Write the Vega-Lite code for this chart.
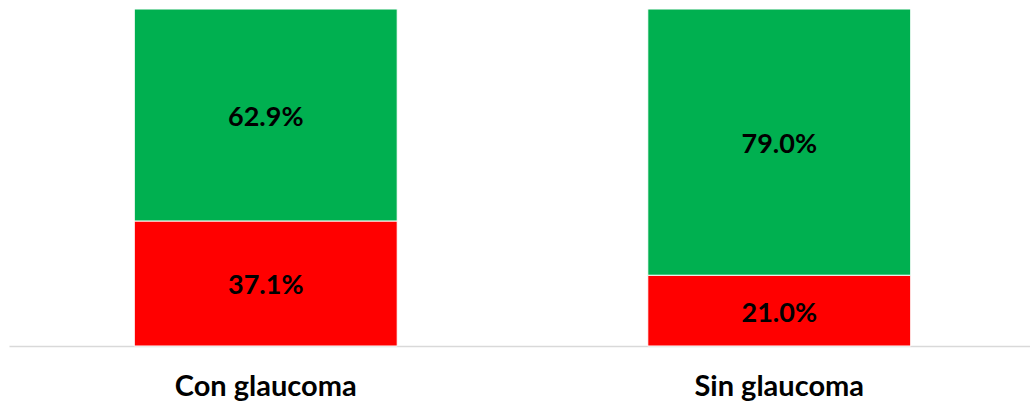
{
  "$schema": "https://vega.github.io/schema/vega-lite/v6.json",
  "width": 1027,
  "height": 337,
  "autosize": {"type": "none"},
  "padding": {"left": 9, "top": 9, "right": 0, "bottom": 61},
  "background": "white",
  "config": {"view": {"stroke": null}, "font": "Lato"},
  "data": {
    "values": [
      {"grupo": "Con glaucoma", "estado": "rojo", "orden": 1, "valor": 0.371},
      {"grupo": "Con glaucoma", "estado": "verde", "orden": 2, "valor": 0.629},
      {"grupo": "Sin glaucoma", "estado": "rojo", "orden": 1, "valor": 0.21},
      {"grupo": "Sin glaucoma", "estado": "verde", "orden": 2, "valor": 0.79}
    ]
  },
  "transform": [
    {"stack": "valor", "groupby": ["grupo"], "sort": [{"field": "orden"}], "as": ["y0", "y1"]}
  ],
  "encoding": {
    "x": {
      "field": "grupo", "type": "nominal",
      "scale": {"paddingInner": 0.488, "paddingOuter": 0.244},
      "axis": {
        "title": null, "labelAngle": 0, "ticks": false,
        "domainColor": "#d9d9d9", "domainWidth": 1.5,
        "labelFontSize": 29, "labelFontWeight": "bold", "labelColor": "#000000",
        "labelBaseline": "alphabetic", "labelPadding": 49, "labelFont": "Lato",
        "labelLimit": 400
      }
    }
  },
  "layer": [
    {
      "mark": {"type": "bar", "stroke": "white", "strokeWidth": 1},
      "encoding": {
        "y": {"field": "y0", "type": "quantitative", "scale": {"domain": [0, 1]}, "axis": null},
        "y2": {"field": "y1"},
        "color": {
          "field": "estado", "type": "nominal", "legend": null,
          "scale": {"domain": ["rojo", "verde"], "range": ["#ff0000", "#00b050"]}
        }
      }
    },
    {
      "transform": [
        {"fold": ["y0", "y1"], "as": ["extremo", "pos"]},
        {"aggregate": [{"op": "mean", "field": "pos", "as": "medio"}, {"op": "max", "field": "valor", "as": "valor"}], "groupby": ["grupo", "estado"]}
      ],
      "mark": {"type": "text", "fontSize": 27, "fontWeight": "bold", "color": "#000000", "font": "Lato", "baseline": "middle", "dy": 3},
      "encoding": {
        "y": {"field": "medio", "type": "quantitative", "stack": null},
        "text": {"field": "valor", "type": "quantitative", "format": ".1%"}
      }
    }
  ]
}
